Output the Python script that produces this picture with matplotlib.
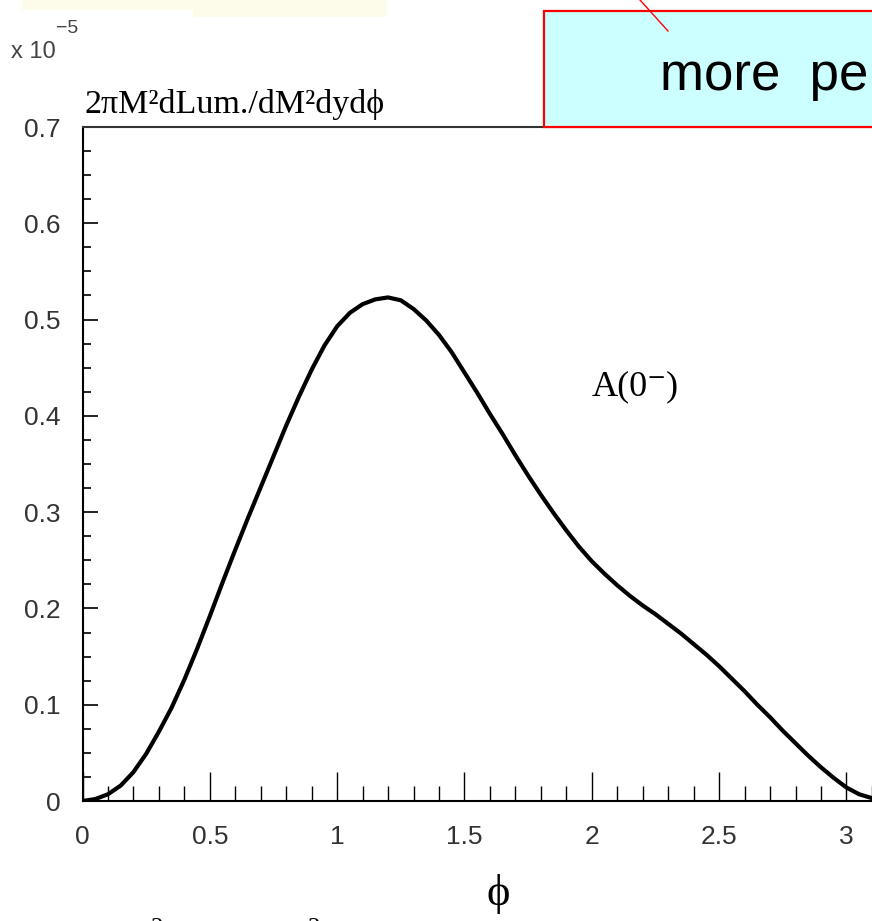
import matplotlib
matplotlib.use("Agg")
import matplotlib.pyplot as plt
from matplotlib.patches import Rectangle
from matplotlib.lines import Line2D
from matplotlib.ticker import MultipleLocator, FixedLocator, FixedFormatter
import numpy as np

# luminosity distribution vs azimuthal angle, A(0-) case (units of 1e-5)
phi = [0.0, 0.05, 0.1, 0.15, 0.2, 0.25, 0.3, 0.35, 0.4, 0.45, 0.5, 0.55,
       0.6, 0.65, 0.7, 0.75, 0.8, 0.85, 0.9, 0.95, 1.0, 1.05, 1.1, 1.15,
       1.2, 1.25, 1.3, 1.35, 1.4, 1.45, 1.5, 1.55, 1.6, 1.65, 1.7, 1.75,
       1.8, 1.85, 1.9, 1.95, 2.0, 2.05, 2.1, 2.15, 2.2, 2.25, 2.3, 2.35,
       2.4, 2.45, 2.5, 2.55, 2.6, 2.65, 2.7, 2.75, 2.8, 2.85, 2.9, 2.95,
       3.0, 3.05, 3.1, np.pi]
lum = [0.0, 0.002, 0.007, 0.016, 0.030, 0.049, 0.072, 0.097, 0.126, 0.158,
       0.192, 0.227, 0.261, 0.294, 0.326, 0.358, 0.390, 0.420, 0.448, 0.473,
       0.493, 0.507, 0.516, 0.521, 0.523, 0.520, 0.511, 0.499, 0.484, 0.466,
       0.445, 0.424, 0.402, 0.381, 0.359, 0.338, 0.318, 0.299, 0.281, 0.264,
       0.249, 0.236, 0.224, 0.213, 0.203, 0.194, 0.184, 0.174, 0.163, 0.152,
       0.140, 0.127, 0.114, 0.100, 0.087, 0.073, 0.060, 0.047, 0.035, 0.024,
       0.014, 0.007, 0.003, 0.0]

xticks = [0, 0.5, 1, 1.5, 2, 2.5, 3]
xticklabels = ["0", "0.5", "1", "1.5", "2", "2.5", "3"]
yticks = [0, 0.1, 0.2, 0.3, 0.4, 0.5, 0.6, 0.7]
yticklabels = ["0", "0.1", "0.2", "0.3", "0.4", "0.5", "0.6", "0.7"]

W, H = 872, 921
SERIF = ["Liberation Serif", "DejaVu Serif"]
SANS = ["Liberation Sans", "DejaVu Sans"]


def fx(px):
    return px / W


def fy(py):
    return 1 - py / H


fig = plt.figure(figsize=(W / 100, H / 100), dpi=100)
fig.patch.set_facecolor("white")

# axes run past the right edge of the figure
ax = fig.add_axes([fx(82.5), fy(801), 800 / W, 674 / H])
ax.plot(phi, lum, color="black", lw=3.0, solid_joinstyle="round",
        solid_capstyle="round")
ax.set_xlim(0, np.pi)
ax.set_ylim(0, 0.7)

ax.xaxis.set_major_locator(FixedLocator(xticks))
ax.xaxis.set_major_formatter(FixedFormatter(xticklabels))
ax.xaxis.set_minor_locator(MultipleLocator(0.1))
ax.yaxis.set_major_locator(FixedLocator(yticks))
ax.yaxis.set_major_formatter(FixedFormatter(yticklabels))
ax.yaxis.set_minor_locator(MultipleLocator(0.025))

ax.tick_params(axis="x", which="major", direction="in", length=21, width=1.0,
               pad=17, labelsize=19, labelcolor="#333333")
ax.tick_params(axis="x", which="minor", direction="in", length=11, width=1.0)
ax.tick_params(axis="y", which="major", direction="in", length=11, width=1.2,
               pad=16, labelsize=19, labelcolor="#333333")
ax.tick_params(axis="y", which="minor", direction="in", length=6, width=1.2)
for lab in ax.get_xticklabels() + ax.get_yticklabels():
    lab.set_family(SANS)

for side in ["left", "bottom", "top", "right"]:
    ax.spines[side].set_linewidth(1.5)
ax.spines["top"].set_color("#333333")

# scale factor and axis titles
fig.text(fx(11), fy(58), "x 10", fontsize=17, color="#444444",
         family=SANS, va="baseline")
fig.text(fx(56), fy(33), "\u22125", fontsize=14, color="#444444",
         family=SANS, va="baseline")
fig.text(fx(84), fy(113), "2\u03c0M\u00b2dLum./dM\u00b2dyd\u03d5", fontsize=24.5,
         family=SERIF, va="baseline")
fig.text(fx(498), fy(905), "\u03d5", fontsize=32, family=SERIF,
         va="baseline", ha="center")
fig.text(fx(592), fy(395), "A(0\u207b)", fontsize=26, family=SERIF,
         va="baseline")

# superscripts of the next line, cut by the lower edge
for px in [157, 314]:
    fig.text(fx(px), fy(935), "2", fontsize=18, family=SERIF,
             va="baseline", ha="center")

# pale strip at the top left
fig.add_artist(Rectangle((fx(22), fy(10)), fx(171), 10 / H,
                         transform=fig.transFigure, facecolor="#fdfbea",
                         edgecolor="none"))
fig.add_artist(Rectangle((fx(193), fy(17)), fx(194), 17 / H,
                         transform=fig.transFigure, facecolor="#fdfbea",
                         edgecolor="none"))

# callout box
fig.add_artist(Rectangle((fx(544), fy(127)), fx(400), 116 / H,
                         transform=fig.transFigure, facecolor="#ccffff",
                         edgecolor="red", lw=1.6, zorder=5))
fig.add_artist(Line2D([fx(640), fx(668)], [fy(0), fy(31)],
                      transform=fig.transFigure, color="red", lw=1.0,
                      zorder=6))
fig.text(fx(660), fy(90), "more  pe", fontsize=38, family=SANS,
         va="baseline", zorder=7)

fig.savefig("out.png", dpi=100)
